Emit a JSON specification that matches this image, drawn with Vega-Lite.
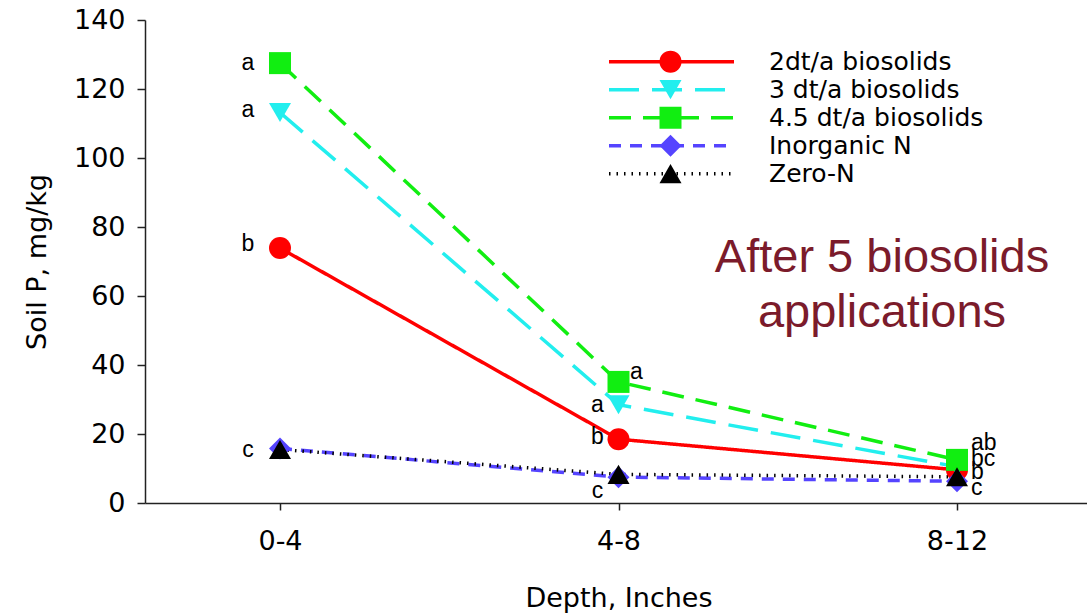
{
  "$schema": "https://vega.github.io/schema/vega-lite/v6.json",
  "width": 947,
  "height": 483,
  "autosize": "none",
  "padding": {"left": 145, "top": 20, "right": 0, "bottom": 110},
  "background": "white",
  "config": {
    "view": {"stroke": null},
    "axis": {
      "grid": false,
      "domainColor": "#222222",
      "domainWidth": 1.5,
      "tickColor": "#222222",
      "tickWidth": 1.5,
      "labelFont": "DejaVu Sans",
      "labelFontSize": 27,
      "labelColor": "black",
      "titleFont": "DejaVu Sans",
      "titleFontSize": 27,
      "titleFontWeight": "normal",
      "titleColor": "black"
    }
  },
  "datasets": {
    "soil": [
      {"series": "2dt/a biosolids", "depth": "0-4", "p": 73.9},
      {"series": "2dt/a biosolids", "depth": "4-8", "p": 18.5},
      {"series": "2dt/a biosolids", "depth": "8-12", "p": 9.6},
      {"series": "3 dt/a biosolids", "depth": "0-4", "p": 113.2},
      {"series": "3 dt/a biosolids", "depth": "4-8", "p": 28.5},
      {"series": "3 dt/a biosolids", "depth": "8-12", "p": 10.5},
      {"series": "4.5 dt/a biosolids", "depth": "0-4", "p": 127.5},
      {"series": "4.5 dt/a biosolids", "depth": "4-8", "p": 35.1},
      {"series": "4.5 dt/a biosolids", "depth": "8-12", "p": 12.5},
      {"series": "Inorganic N", "depth": "0-4", "p": 15.8},
      {"series": "Inorganic N", "depth": "4-8", "p": 7.5},
      {"series": "Inorganic N", "depth": "8-12", "p": 6.3},
      {"series": "Zero-N", "depth": "0-4", "p": 15.5},
      {"series": "Zero-N", "depth": "4-8", "p": 8.3},
      {"series": "Zero-N", "depth": "8-12", "p": 7.6}
    ],
    "letters": [
      {"depth": "0-4", "p": 127.5, "label": "a"},
      {"depth": "0-4", "p": 114, "label": "a"},
      {"depth": "0-4", "p": 75, "label": "b"},
      {"depth": "0-4", "p": 15.4, "label": "c"},
      {"depth": "4-8", "p": 38, "label": "a"},
      {"depth": "4-8", "p": 28.4, "label": "a"},
      {"depth": "4-8", "p": 19.1, "label": "b"},
      {"depth": "4-8", "p": 3.5, "label": "c"},
      {"depth": "8-12", "p": 17.4, "label": "ab"},
      {"depth": "8-12", "p": 12.8, "label": "bc"},
      {"depth": "8-12", "p": 9.0, "label": "b"},
      {"depth": "8-12", "p": 4.3, "label": "c"}
    ]
  },
  "resolve": {
    "legend": {
      "color": "independent",
      "shape": "independent",
      "size": "independent",
      "strokeDash": "independent",
      "strokeWidth": "independent"
    }
  },
  "encoding": {
    "x": {
      "field": "depth",
      "type": "ordinal",
      "sort": ["0-4", "4-8", "8-12"],
      "scale": {"type": "point", "padding": 0.3988},
      "axis": {
        "title": "Depth, Inches",
        "labelAngle": 0,
        "tickSize": 7,
        "labelPadding": 18,
        "titlePadding": 31
      }
    },
    "y": {
      "field": "p",
      "type": "quantitative",
      "scale": {"domain": [0, 140], "nice": false},
      "axis": {
        "title": "Soil P, mg/kg",
        "values": [0, 20, 40, 60, 80, 100, 120, 140],
        "tickSize": 8,
        "labelPadding": 12,
        "titlePadding": 22
      }
    }
  },
  "layer": [
    {
      "data": {"name": "soil"},
      "mark": {"type": "line"},
      "encoding": {
        "color": {
          "field": "series",
          "type": "nominal",
          "scale": {
            "domain": ["2dt/a biosolids", "3 dt/a biosolids", "4.5 dt/a biosolids", "Inorganic N", "Zero-N"],
            "range": ["#ff0000", "#22eeee", "#11ee11", "#5544ff", "#000000"]
          },
          "legend": {
            "title": null,
            "orient": "none",
            "legendX": 462,
            "legendY": 28,
            "symbolType": "stroke",
            "symbolSize": 15625,
            "symbolStrokeWidth": 3.5,
            "labelFont": "DejaVu Sans",
            "labelFontSize": 25,
            "labelColor": "black",
            "labelLimit": 400,
            "labelOffset": 33,
            "clipHeight": 27.3,
            "rowPadding": 0,
            "padding": 0
          }
        },
        "strokeDash": {
          "field": "series",
          "type": "nominal",
          "scale": {
            "domain": ["2dt/a biosolids", "3 dt/a biosolids", "4.5 dt/a biosolids", "Inorganic N", "Zero-N"],
            "range": [[1, 0], [30, 13], [22, 12], [12, 9], [1.5, 6]]
          }
        },
        "strokeWidth": {
          "field": "series",
          "type": "nominal",
          "scale": {
            "domain": ["2dt/a biosolids", "3 dt/a biosolids", "4.5 dt/a biosolids", "Inorganic N", "Zero-N"],
            "range": [3.5, 3.5, 3.5, 3.5, 1.3]
          }
        }
      }
    },
    {
      "data": {"name": "soil"},
      "mark": {"type": "point", "filled": true, "opacity": 1},
      "encoding": {
        "color": {
          "field": "series",
          "type": "nominal",
          "scale": {
            "domain": ["2dt/a biosolids", "3 dt/a biosolids", "4.5 dt/a biosolids", "Inorganic N", "Zero-N"],
            "range": ["#ff0000", "#22eeee", "#11ee11", "#5544ff", "#000000"]
          },
          "legend": {
            "title": null,
            "orient": "none",
            "legendX": 513,
            "legendY": 28,
            "labelExpr": "''",
            "labelFontSize": 25,
            "clipHeight": 27.3,
            "rowPadding": 0,
            "padding": 0,
            "symbolOpacity": 1
          }
        },
        "shape": {
          "field": "series",
          "type": "nominal",
          "scale": {
            "domain": ["2dt/a biosolids", "3 dt/a biosolids", "4.5 dt/a biosolids", "Inorganic N", "Zero-N"],
            "range": ["circle", "triangle-down", "square", "diamond", "triangle-up"]
          }
        },
        "size": {
          "field": "series",
          "type": "nominal",
          "scale": {
            "domain": ["2dt/a biosolids", "3 dt/a biosolids", "4.5 dt/a biosolids", "Inorganic N", "Zero-N"],
            "range": [484, 484, 324, 576, 484]
          }
        }
      }
    },
    {
      "data": {"name": "letters"},
      "transform": [{"filter": "datum.depth == '0-4'"}],
      "mark": {"type": "text", "font": "Liberation Sans", "fontSize": 23, "color": "black", "align": "center", "baseline": "middle", "dx": -32},
      "encoding": {"text": {"field": "label"}}
    },
    {
      "data": {"name": "letters"},
      "transform": [{"filter": "datum.depth == '4-8' && datum.p < 30"}],
      "mark": {"type": "text", "font": "Liberation Sans", "fontSize": 23, "color": "black", "align": "center", "baseline": "middle", "dx": -21},
      "encoding": {"text": {"field": "label"}}
    },
    {
      "data": {"name": "letters"},
      "transform": [{"filter": "datum.depth == '4-8' && datum.p >= 30"}],
      "mark": {"type": "text", "font": "Liberation Sans", "fontSize": 23, "color": "black", "align": "center", "baseline": "middle", "dx": 18},
      "encoding": {"text": {"field": "label"}}
    },
    {
      "data": {"name": "letters"},
      "transform": [{"filter": "datum.depth == '8-12'"}],
      "mark": {"type": "text", "font": "Liberation Sans", "fontSize": 23, "color": "black", "align": "left", "baseline": "middle", "dx": 14},
      "encoding": {"text": {"field": "label"}}
    },
    {
      "data": {"values": [{"depth": "8-12", "p": 67, "note": "After 5 biosolids"}]},
      "mark": {"type": "text", "font": "Liberation Sans", "fontSize": 47, "color": "#7b1b2b", "align": "center", "baseline": "alphabetic", "dx": -75, "lineHeight": 55},
      "encoding": {"text": {"value": ["After 5 biosolids", "applications"]}}
    }
  ]
}
